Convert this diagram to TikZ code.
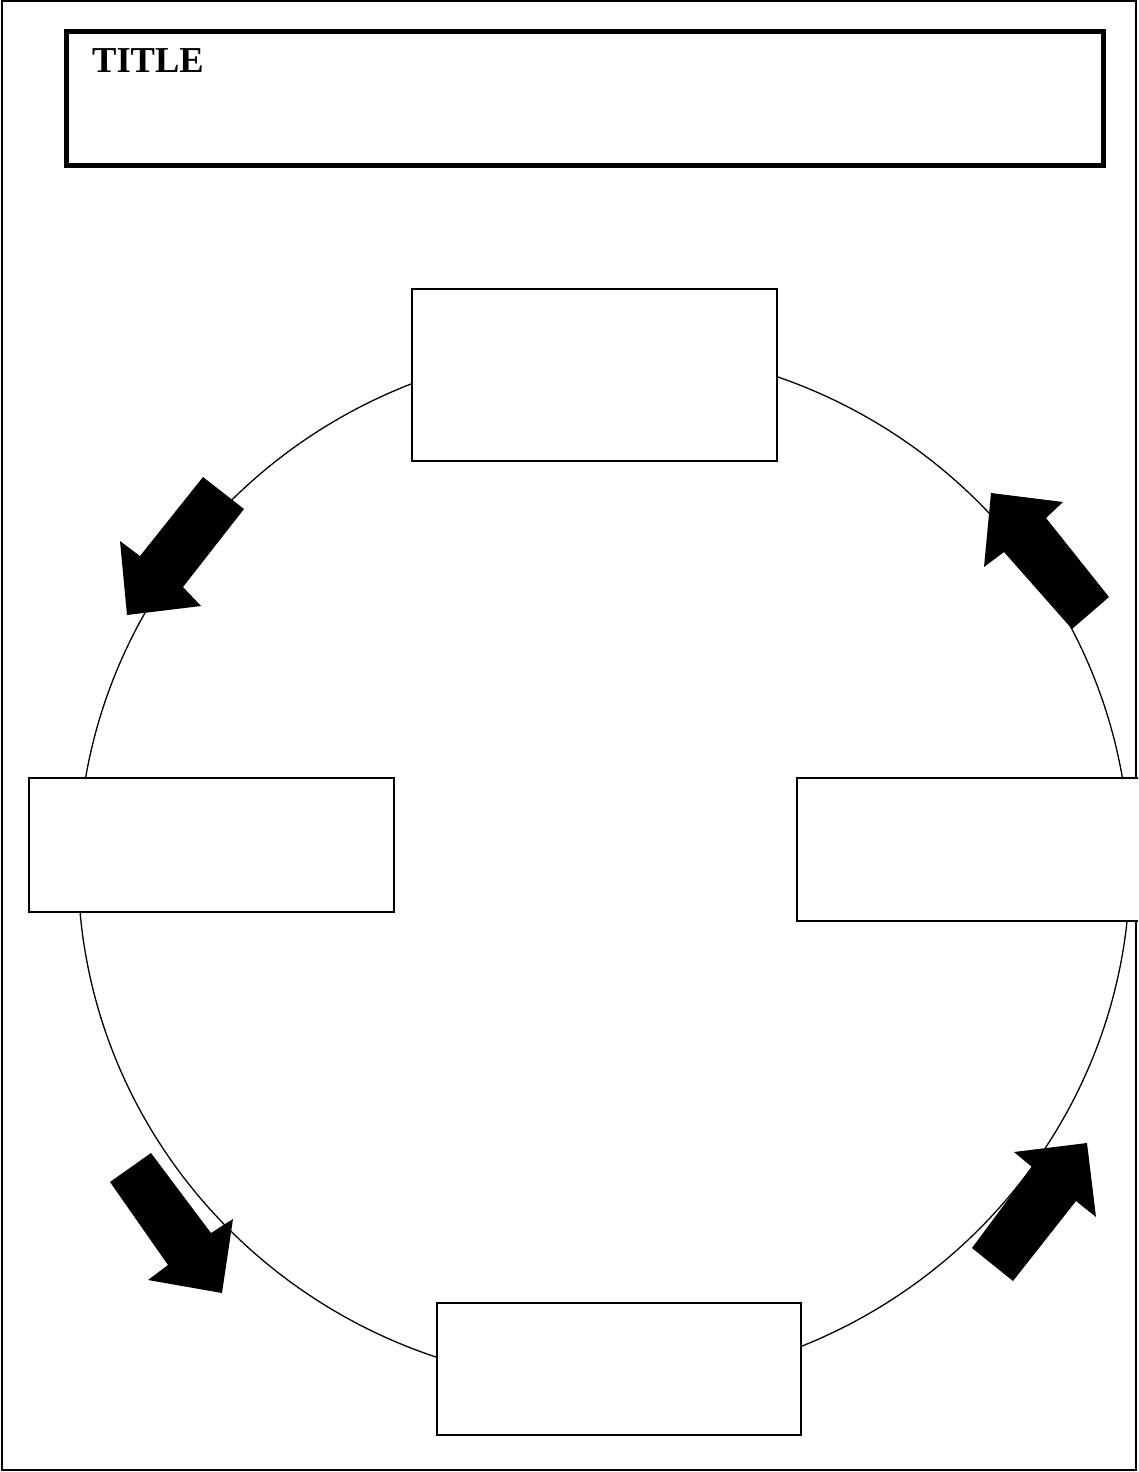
\documentclass[tikz,border=0pt]{standalone}
\usepackage{fontspec}
\setmainfont{Liberation Serif}
\begin{document}
\begin{tikzpicture}[x=1pt,y=-1pt,
  stagebox/.style={draw=black,line width=1.6pt,fill=white,inner sep=0pt},
  blockarrow/.style={fill=black}]
\useasboundingbox (0,0) rectangle (1138,1472);
\clip (0,0) rectangle (1138,1472);
\draw[color=black,line width=2.2pt] (2,1) rectangle (1136,1470);
\node[draw=black,line width=5pt,minimum width=1037pt,minimum height=134pt,inner sep=0pt] (titlebox) at (585,98.5) {};
\node[anchor=base west,inner sep=0pt] (titletext) at (92,72) {\fontsize{36.5}{42}\selectfont\textbf{TITLE}};
\draw[color=black,line width=1.3pt] (604,866) ellipse (526pt and 518pt);
\node[stagebox,minimum width=365pt,minimum height=172pt] (top) at (594.5,375) {};
\node[stagebox,minimum width=365pt,minimum height=134pt] (left) at (211.5,845) {};
\node[stagebox,minimum width=365pt,minimum height=143pt] (right) at (979.5,849.5) {};
\node[stagebox,minimum width=364pt,minimum height=132pt] (bottom) at (619,1369) {};
% arrows round the cycle
\fill[blockarrow] (203,477) -- (140,556) -- (120,541) -- (127,615) -- (201,606) -- (183,587) -- (244,509) -- cycle;
\fill[blockarrow] (110,1182) -- (151,1153) -- (211,1233) -- (233,1219) -- (222,1293) -- (148,1280) -- (168,1265) -- cycle;
\fill[blockarrow] (972,1248) -- (1032,1167) -- (1014,1152) -- (1087,1143) -- (1096,1217) -- (1076,1201) -- (1013,1281) -- cycle;
\fill[blockarrow] (991,493) -- (1063,502) -- (1046,518) -- (1109,597) -- (1072,629) -- (1004,552) -- (984,567) -- cycle;
\end{tikzpicture}
\end{document}
